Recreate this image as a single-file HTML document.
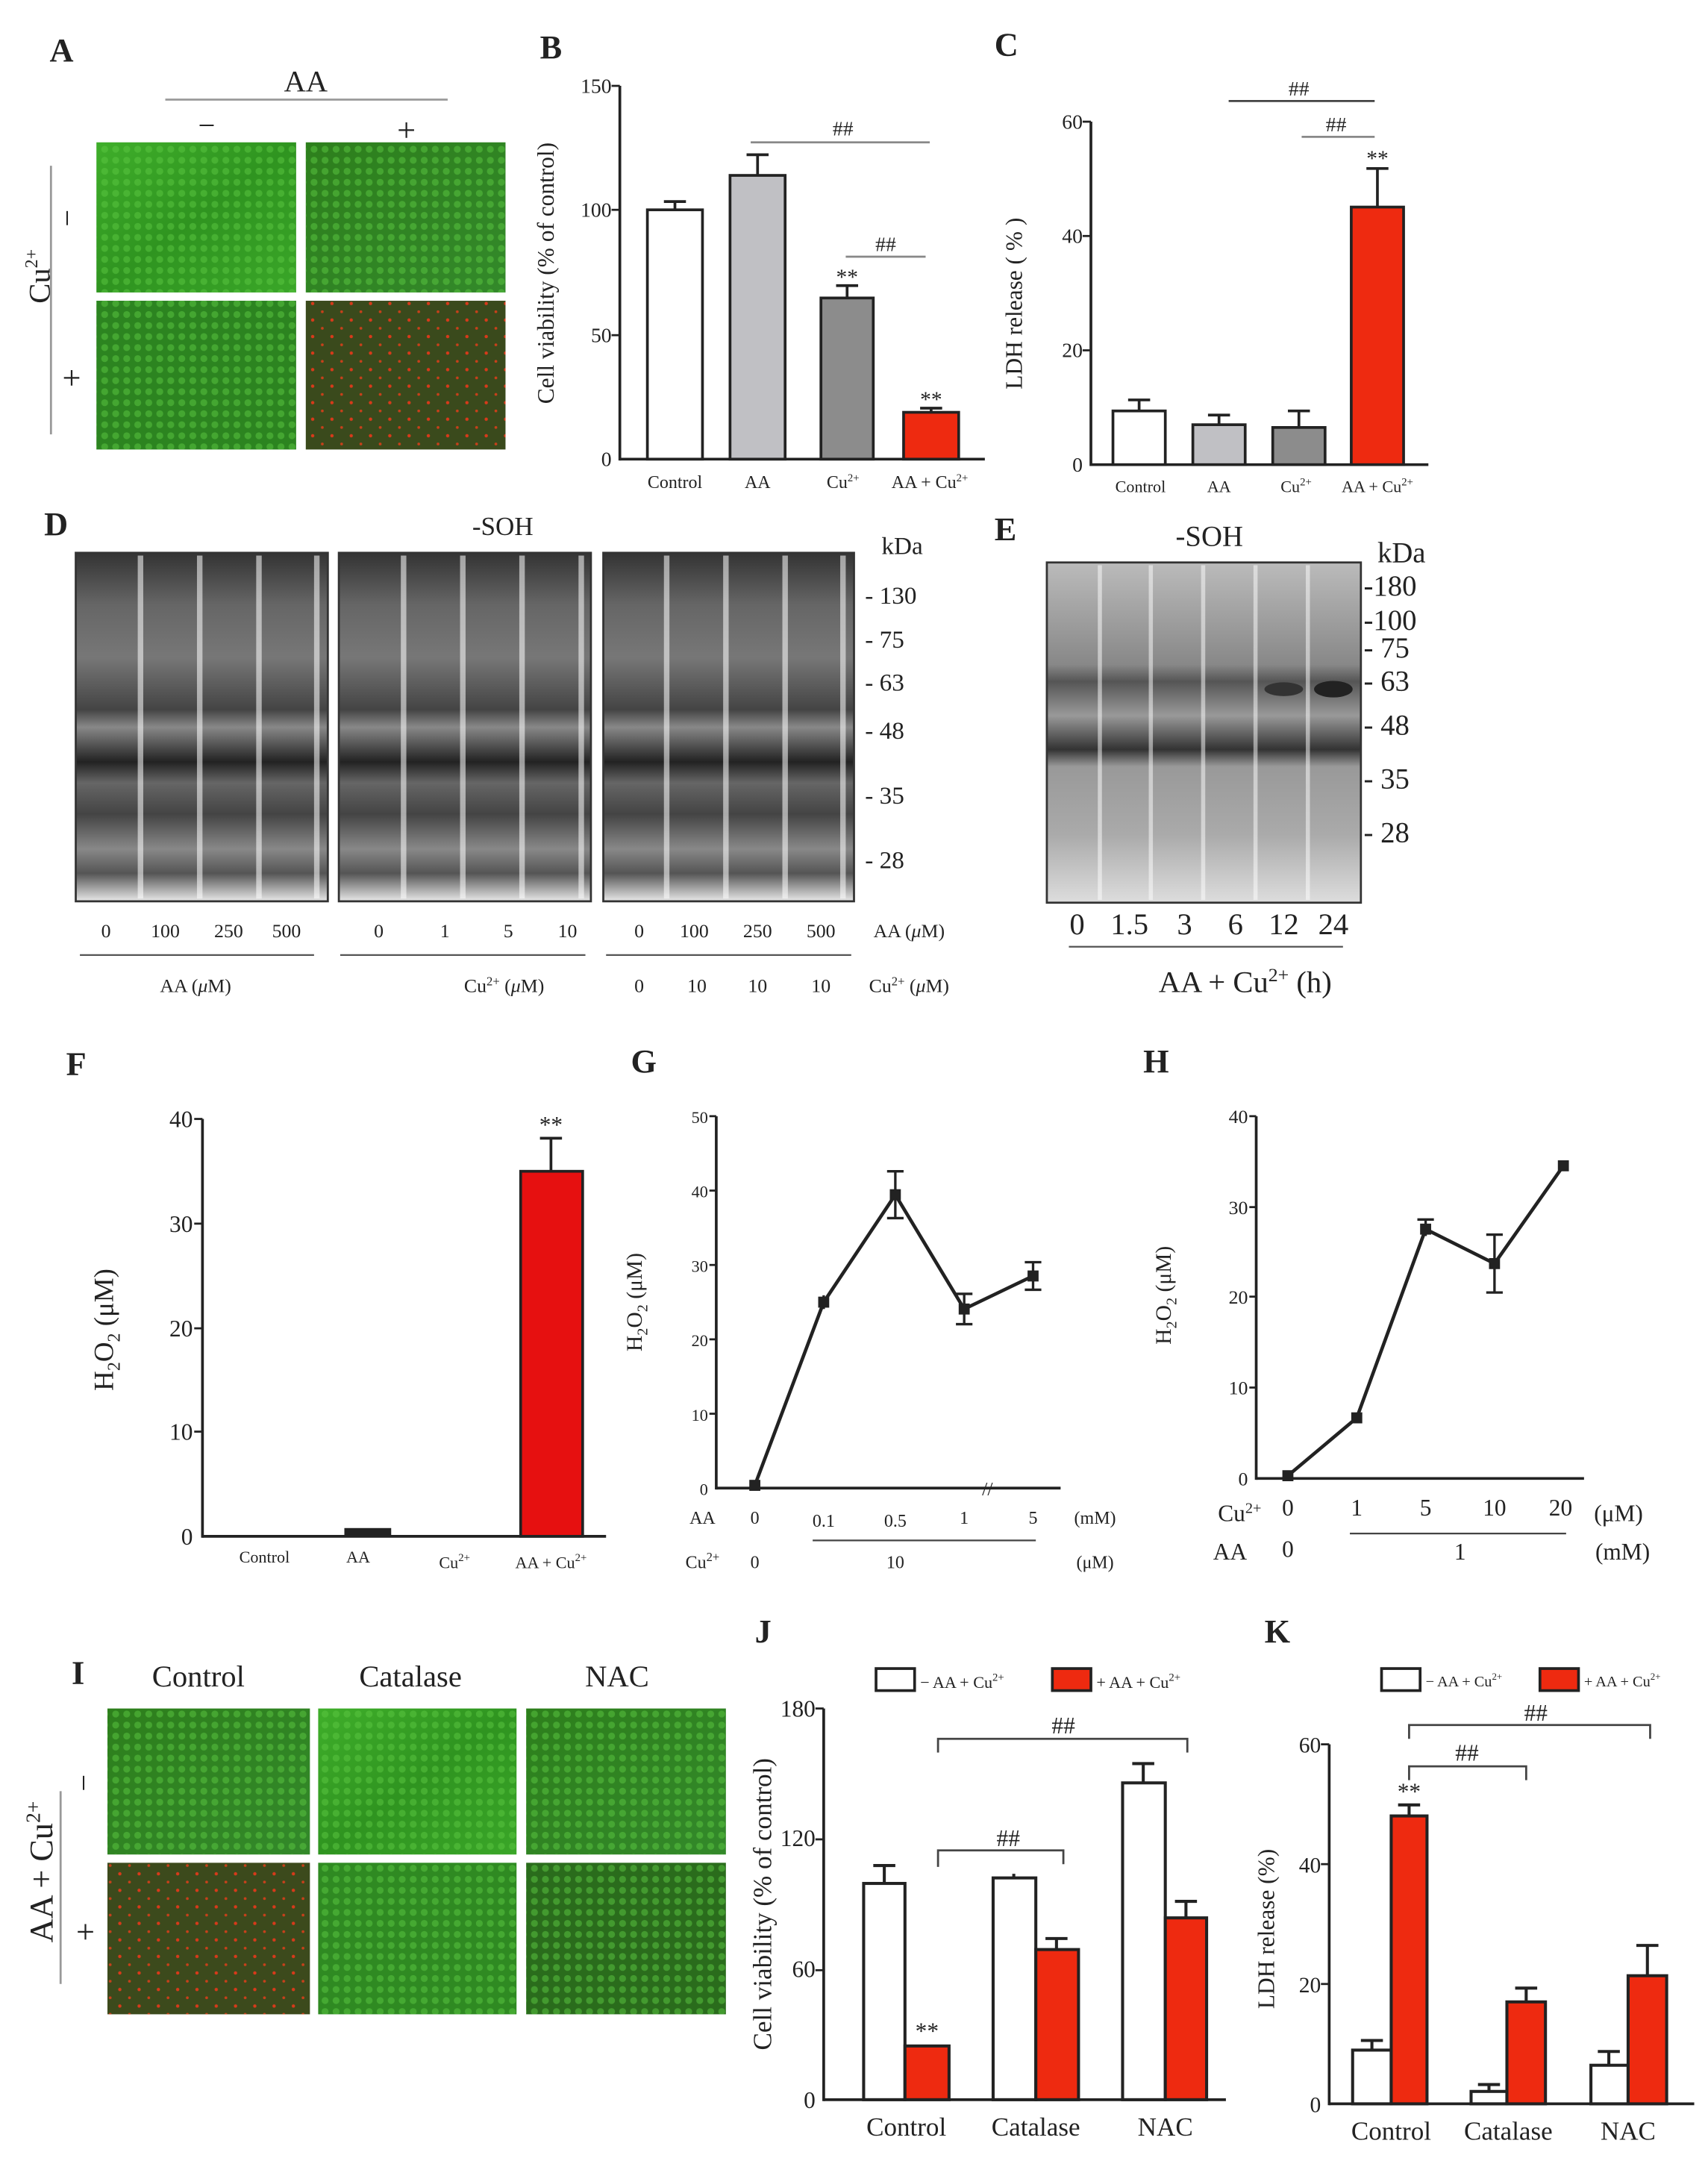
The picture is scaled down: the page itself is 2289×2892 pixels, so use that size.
<!DOCTYPE html>
<html><head><meta charset="utf-8"><style>
html,body{margin:0;padding:0;background:#fff}
svg{display:block}
text{font-family:"Liberation Serif",serif;fill:#222}
</style></head><body>
<svg width="2289" height="2892" viewBox="0 0 1240 1566" xmlns="http://www.w3.org/2000/svg">
<defs>
<linearGradient id="grn" x1="0" y1="0" x2="1" y2="1"><stop offset="0" stop-color="#3fae2a"/><stop offset="0.5" stop-color="#2f9420"/><stop offset="1" stop-color="#3aa628"/></linearGradient>
<linearGradient id="grn2" x1="0" y1="0" x2="1" y2="1"><stop offset="0" stop-color="#2d7f1c"/><stop offset="1" stop-color="#33892a"/></linearGradient>
<pattern id="cells" width="8" height="8" patternUnits="userSpaceOnUse"><circle cx="4" cy="4" r="2.5" fill="#5cc842" opacity="0.5"/></pattern>
<pattern id="reddots" width="14" height="12" patternUnits="userSpaceOnUse"><circle cx="3" cy="4" r="1.2" fill="#d83a1a"/><circle cx="10" cy="10" r="1" fill="#c8401a"/></pattern>
<linearGradient id="blot" x1="0" y1="0" x2="0" y2="1">
<stop offset="0" stop-color="#333"/><stop offset="0.15" stop-color="#666"/><stop offset="0.3" stop-color="#777"/><stop offset="0.45" stop-color="#444"/><stop offset="0.5" stop-color="#888"/><stop offset="0.6" stop-color="#222"/><stop offset="0.66" stop-color="#666"/><stop offset="0.75" stop-color="#444"/><stop offset="0.85" stop-color="#888"/><stop offset="0.92" stop-color="#555"/><stop offset="1" stop-color="#e8e8e8"/></linearGradient>
<linearGradient id="blotE" x1="0" y1="0" x2="0" y2="1">
<stop offset="0" stop-color="#bbb"/><stop offset="0.3" stop-color="#888"/><stop offset="0.35" stop-color="#555"/><stop offset="0.45" stop-color="#999"/><stop offset="0.55" stop-color="#333"/><stop offset="0.6" stop-color="#999"/><stop offset="0.8" stop-color="#aaa"/><stop offset="1" stop-color="#ddd"/></linearGradient>
</defs>

<!-- Panel A -->
<text x="36" y="44" font-size="24" font-weight="bold">A</text>
<text x="222" y="66" font-size="22" text-anchor="middle">AA</text>
<line x1="120" y1="72" x2="325" y2="72" stroke="#999" stroke-width="1.5"/>
<text x="150" y="98" font-size="22" text-anchor="middle">−</text>
<text x="295" y="102" font-size="24" text-anchor="middle">+</text>
<rect x="70" y="103" width="145" height="109" fill="url(#grn)"/><rect x="70" y="103" width="145" height="109" fill="url(#cells)"/>
<rect x="222" y="103" width="145" height="109" fill="url(#grn2)"/><rect x="222" y="103" width="145" height="109" fill="url(#cells)"/>
<rect x="70" y="218" width="145" height="108" fill="#2c8420"/><rect x="70" y="218" width="145" height="108" fill="url(#cells)"/>
<rect x="222" y="218" width="145" height="108" fill="#3a4a1c"/><rect x="222" y="218" width="145" height="108" fill="url(#reddots)"/>
<line x1="37" y1="120" x2="37" y2="315" stroke="#999" stroke-width="1.5"/>
<text transform="translate(36,220) rotate(-90)" font-size="22">Cu<tspan font-size="13" dy="-9">2+</tspan></text>
<text x="52" y="162" font-size="22" text-anchor="middle" transform="rotate(-90 52 158)">−</text>
<text x="52" y="282" font-size="24" text-anchor="middle">+</text>

<!-- Panel B -->
<text x="392" y="42" font-size="24" font-weight="bold">B</text>
<g font-size="15" text-anchor="end"><text x="444" y="67">150</text><text x="444" y="157">100</text><text x="444" y="248">50</text><text x="444" y="338">0</text></g>
<line x1="450" y1="62" x2="450" y2="334" stroke="#222" stroke-width="2"/>
<line x1="450" y1="333" x2="715" y2="333" stroke="#222" stroke-width="2"/>
<g stroke="#222" stroke-width="1.5"><line x1="444" y1="62" x2="450" y2="62"/><line x1="444" y1="152" x2="450" y2="152"/><line x1="444" y1="243" x2="450" y2="243"/></g>
<text transform="translate(402,198) rotate(-90)" font-size="17" text-anchor="middle">Cell viability (% of control)</text>
<g stroke="#222" stroke-width="2">
<rect x="470" y="152" width="40" height="181" fill="#fff"/><line x1="490" y1="152" x2="490" y2="146"/><line x1="482" y1="146" x2="498" y2="146"/>
<rect x="530" y="127" width="40" height="206" fill="#c0c0c4"/><line x1="550" y1="127" x2="550" y2="112"/><line x1="542" y1="112" x2="558" y2="112"/>
<rect x="596" y="216" width="38" height="117" fill="#8c8c8c"/><line x1="615" y1="216" x2="615" y2="207"/><line x1="607" y1="207" x2="623" y2="207"/>
<rect x="656" y="299" width="40" height="34" fill="#ee2a10"/><line x1="676" y1="299" x2="676" y2="296"/><line x1="668" y1="296" x2="684" y2="296"/>
</g>
<line x1="545" y1="103" x2="675" y2="103" stroke="#888" stroke-width="1.5"/><text x="612" y="98" font-size="15" text-anchor="middle">##</text>
<line x1="614" y1="186" x2="672" y2="186" stroke="#888" stroke-width="1.5"/><text x="643" y="182" font-size="15" text-anchor="middle">##</text>
<text x="615" y="206" font-size="16" text-anchor="middle">**</text><text x="676" y="295" font-size="16" text-anchor="middle">**</text>
<g font-size="13" text-anchor="middle"><text x="490" y="354">Control</text><text x="550" y="354">AA</text><text x="612" y="354">Cu<tspan font-size="8" dy="-5">2+</tspan></text><text x="675" y="354">AA + Cu<tspan font-size="8" dy="-5">2+</tspan></text></g>

<!-- Panel C -->
<text x="722" y="40" font-size="24" font-weight="bold">C</text>
<g font-size="15" text-anchor="end"><text x="786" y="93">60</text><text x="786" y="176">40</text><text x="786" y="259">20</text><text x="786" y="342">0</text></g>
<line x1="792" y1="88" x2="792" y2="338" stroke="#222" stroke-width="2"/>
<line x1="792" y1="337" x2="1037" y2="337" stroke="#222" stroke-width="2"/>
<g stroke="#222" stroke-width="1.5"><line x1="786" y1="88" x2="792" y2="88"/><line x1="786" y1="171" x2="792" y2="171"/><line x1="786" y1="254" x2="792" y2="254"/></g>
<text transform="translate(742,220) rotate(-90)" font-size="17" text-anchor="middle">LDH release ( % )</text>
<g stroke="#222" stroke-width="2">
<rect x="808" y="298" width="38" height="39" fill="#fff"/><line x1="827" y1="298" x2="827" y2="290"/><line x1="819" y1="290" x2="835" y2="290"/>
<rect x="866" y="308" width="38" height="29" fill="#c0c0c4"/><line x1="885" y1="308" x2="885" y2="301"/><line x1="877" y1="301" x2="893" y2="301"/>
<rect x="924" y="310" width="38" height="27" fill="#8c8c8c"/><line x1="943" y1="310" x2="943" y2="298"/><line x1="935" y1="298" x2="951" y2="298"/>
<rect x="981" y="150" width="38" height="187" fill="#ee2a10"/><line x1="1000" y1="150" x2="1000" y2="122"/><line x1="992" y1="122" x2="1008" y2="122"/>
</g>
<line x1="892" y1="73" x2="998" y2="73" stroke="#444" stroke-width="1.5"/><text x="943" y="69" font-size="15" text-anchor="middle">##</text>
<line x1="945" y1="99" x2="998" y2="99" stroke="#888" stroke-width="1.5"/><text x="970" y="95" font-size="15" text-anchor="middle">##</text>
<text x="1000" y="120" font-size="16" text-anchor="middle">**</text>
<g font-size="12" text-anchor="middle"><text x="828" y="357">Control</text><text x="885" y="357">AA</text><text x="941" y="357">Cu<tspan font-size="8" dy="-5">2+</tspan></text><text x="1000" y="357">AA + Cu<tspan font-size="8" dy="-5">2+</tspan></text></g>

<!-- Panel D -->
<text x="32" y="388" font-size="24" font-weight="bold">D</text>
<text x="365" y="388" font-size="19" text-anchor="middle">-SOH</text>
<g stroke="#333" stroke-width="1.5">
<rect x="55" y="401" width="183" height="253" fill="url(#blot)"/>
<rect x="246" y="401" width="183" height="253" fill="url(#blot)"/>
<rect x="438" y="401" width="182" height="253" fill="url(#blot)"/>
</g>
<g fill="#fff" opacity="0.55">
<rect x="100" y="403" width="4" height="249"/><rect x="143" y="403" width="4" height="249"/><rect x="186" y="403" width="4" height="249"/><rect x="228" y="403" width="4" height="249"/>
<rect x="291" y="403" width="4" height="249"/><rect x="334" y="403" width="4" height="249"/><rect x="377" y="403" width="4" height="249"/><rect x="420" y="403" width="4" height="249"/>
<rect x="482" y="403" width="4" height="249"/><rect x="525" y="403" width="4" height="249"/><rect x="568" y="403" width="4" height="249"/><rect x="610" y="403" width="4" height="249"/>
</g>
<text x="640" y="402" font-size="18">kDa</text>
<g font-size="18"><text x="628" y="438">- 130</text><text x="628" y="470">- 75</text><text x="628" y="501">- 63</text><text x="628" y="536">- 48</text><text x="628" y="583">- 35</text><text x="628" y="630">- 28</text></g>
<g font-size="14" text-anchor="middle">
<text x="77" y="680">0</text><text x="120" y="680">100</text><text x="166" y="680">250</text><text x="208" y="680">500</text>
<text x="275" y="680">0</text><text x="323" y="680">1</text><text x="369" y="680">5</text><text x="412" y="680">10</text>
<text x="464" y="680">0</text><text x="504" y="680">100</text><text x="550" y="680">250</text><text x="596" y="680">500</text>
<text x="660" y="680">AA  (<tspan font-style="italic">μ</tspan>M)</text>
<text x="464" y="720">0</text><text x="506" y="720">10</text><text x="550" y="720">10</text><text x="596" y="720">10</text>
<text x="660" y="720">Cu<tspan font-size="9" dy="-5">2+</tspan><tspan dy="5"> (</tspan><tspan font-style="italic">μ</tspan>M)</text>
<text x="142" y="720">AA (<tspan font-style="italic">μ</tspan>M)</text>
<text x="366" y="720">Cu<tspan font-size="9" dy="-5">2+</tspan><tspan dy="5"> (</tspan><tspan font-style="italic">μ</tspan>M)</text>
</g>
<g stroke="#555" stroke-width="1.2"><line x1="58" y1="693" x2="228" y2="693"/><line x1="247" y1="693" x2="425" y2="693"/><line x1="440" y1="693" x2="618" y2="693"/></g>

<!-- Panel E -->
<text x="722" y="392" font-size="24" font-weight="bold">E</text>
<text x="878" y="396" font-size="21" text-anchor="middle">-SOH</text>
<rect x="760" y="408" width="228" height="247" fill="url(#blotE)" stroke="#333" stroke-width="1.5"/>
<g fill="#fff" opacity="0.5"><rect x="797" y="410" width="3" height="243"/><rect x="834" y="410" width="3" height="243"/><rect x="872" y="410" width="3" height="243"/><rect x="910" y="410" width="3" height="243"/><rect x="948" y="410" width="3" height="243"/></g>
<ellipse cx="968" cy="500" rx="14" ry="6" fill="#222"/><ellipse cx="932" cy="500" rx="14" ry="5" fill="#333"/>
<text x="1000" y="408" font-size="21">kDa</text>
<g font-size="21"><text x="990" y="432">-180</text><text x="990" y="457">-100</text><text x="990" y="477">- 75</text><text x="990" y="501">- 63</text><text x="990" y="533">- 48</text><text x="990" y="572">- 35</text><text x="990" y="611">- 28</text></g>
<g font-size="22" text-anchor="middle"><text x="782" y="678">0</text><text x="820" y="678">1.5</text><text x="860" y="678">3</text><text x="897" y="678">6</text><text x="932" y="678">12</text><text x="968" y="678">24</text></g>
<line x1="776" y1="687" x2="975" y2="687" stroke="#555" stroke-width="1.2"/>
<text x="904" y="720" font-size="22" text-anchor="middle">AA + Cu<tspan font-size="14" dy="-8">2+</tspan><tspan dy="8"> (h)</tspan></text>

<!-- Panel F -->
<text x="48" y="780" font-size="24" font-weight="bold">F</text>
<g font-size="17" text-anchor="end"><text x="140" y="818">40</text><text x="140" y="894">30</text><text x="140" y="970">20</text><text x="140" y="1045">10</text><text x="140" y="1121">0</text></g>
<line x1="147" y1="812" x2="147" y2="1116" stroke="#222" stroke-width="2"/>
<line x1="147" y1="1115" x2="440" y2="1115" stroke="#222" stroke-width="2"/>
<g stroke="#222" stroke-width="1.5"><line x1="141" y1="812" x2="147" y2="812"/><line x1="141" y1="888" x2="147" y2="888"/><line x1="141" y1="964" x2="147" y2="964"/><line x1="141" y1="1039" x2="147" y2="1039"/></g>
<text transform="translate(82,965) rotate(-90)" font-size="20" text-anchor="middle">H<tspan font-size="13" dy="5">2</tspan><tspan dy="-5">O</tspan><tspan font-size="13" dy="5">2</tspan><tspan dy="-5"> (μM)</tspan></text>
<rect x="250" y="1109" width="34" height="6" fill="#222"/>
<rect x="378" y="850" width="45" height="265" fill="#e61010" stroke="#222" stroke-width="2"/>
<g stroke="#222" stroke-width="2"><line x1="400" y1="850" x2="400" y2="826"/><line x1="392" y1="826" x2="408" y2="826"/></g>
<text x="400" y="822" font-size="17" text-anchor="middle">**</text>
<g font-size="12" text-anchor="middle"><text x="192" y="1134">Control</text><text x="260" y="1134">AA</text><text x="330" y="1138">Cu<tspan font-size="8" dy="-5">2+</tspan></text><text x="400" y="1138">AA + Cu<tspan font-size="8" dy="-5">2+</tspan></text></g>

<!-- Panel G -->
<text x="458" y="778" font-size="24" font-weight="bold">G</text>
<g font-size="12" text-anchor="end"><text x="514" y="815">50</text><text x="514" y="869">40</text><text x="514" y="923">30</text><text x="514" y="977">20</text><text x="514" y="1031">10</text><text x="514" y="1085">0</text></g>
<line x1="520" y1="810" x2="520" y2="1081" stroke="#222" stroke-width="2"/>
<line x1="520" y1="1080" x2="770" y2="1080" stroke="#222" stroke-width="2"/>
<g stroke="#222" stroke-width="1.5"><line x1="515" y1="810" x2="520" y2="810"/><line x1="515" y1="864" x2="520" y2="864"/><line x1="515" y1="918" x2="520" y2="918"/><line x1="515" y1="972" x2="520" y2="972"/><line x1="515" y1="1026" x2="520" y2="1026"/></g>
<text x="713" y="1085" font-size="14">//</text>
<text transform="translate(466,945) rotate(-90)" font-size="16" text-anchor="middle">H<tspan font-size="11" dy="4">2</tspan><tspan dy="-4">O</tspan><tspan font-size="11" dy="4">2</tspan><tspan dy="-4"> (μM)</tspan></text>
<polyline points="548,1078 598,945 650,867 700,950 750,926" fill="none" stroke="#222" stroke-width="2.5"/>
<g stroke="#222" stroke-width="1.8"><line x1="598" y1="940" x2="598" y2="950"/><line x1="650" y1="850" x2="650" y2="884"/><line x1="644" y1="850" x2="656" y2="850"/><line x1="644" y1="884" x2="656" y2="884"/><line x1="700" y1="939" x2="700" y2="961"/><line x1="694" y1="939" x2="706" y2="939"/><line x1="694" y1="961" x2="706" y2="961"/><line x1="750" y1="916" x2="750" y2="936"/><line x1="744" y1="916" x2="756" y2="916"/><line x1="744" y1="936" x2="756" y2="936"/></g>
<g fill="#222"><rect x="544" y="1074" width="8" height="8"/><rect x="594" y="941" width="8" height="8"/><rect x="646" y="863" width="8" height="8"/><rect x="696" y="946" width="8" height="8"/><rect x="746" y="922" width="8" height="8"/></g>
<g font-size="13" text-anchor="middle"><text x="510" y="1106">AA</text><text x="548" y="1106">0</text><text x="598" y="1108">0.1</text><text x="650" y="1108">0.5</text><text x="700" y="1106">1</text><text x="750" y="1106">5</text><text x="795" y="1106">(mM)</text>
<text x="510" y="1138">Cu<tspan font-size="9" dy="-5">2+</tspan></text><text x="548" y="1138">0</text><text x="650" y="1138">10</text><text x="795" y="1138">(μM)</text></g>
<line x1="590" y1="1118" x2="752" y2="1118" stroke="#444" stroke-width="1.2"/>

<!-- Panel H -->
<text x="830" y="778" font-size="24" font-weight="bold">H</text>
<g font-size="14" text-anchor="end"><text x="906" y="815">40</text><text x="906" y="881">30</text><text x="906" y="946">20</text><text x="906" y="1012">10</text><text x="906" y="1078">0</text></g>
<line x1="912" y1="810" x2="912" y2="1074" stroke="#222" stroke-width="2"/>
<line x1="912" y1="1073" x2="1150" y2="1073" stroke="#222" stroke-width="2"/>
<g stroke="#222" stroke-width="1.5"><line x1="907" y1="810" x2="912" y2="810"/><line x1="907" y1="876" x2="912" y2="876"/><line x1="907" y1="941" x2="912" y2="941"/><line x1="907" y1="1007" x2="912" y2="1007"/></g>
<text transform="translate(850,940) rotate(-90)" font-size="16" text-anchor="middle">H<tspan font-size="11" dy="4">2</tspan><tspan dy="-4">O</tspan><tspan font-size="11" dy="4">2</tspan><tspan dy="-4"> (μM)</tspan></text>
<polyline points="935,1071 985,1029 1035,892 1085,917 1135,846" fill="none" stroke="#222" stroke-width="2.5"/>
<g stroke="#222" stroke-width="1.8"><line x1="1035" y1="885" x2="1035" y2="897"/><line x1="1029" y1="885" x2="1041" y2="885"/><line x1="1085" y1="896" x2="1085" y2="938"/><line x1="1079" y1="896" x2="1091" y2="896"/><line x1="1079" y1="938" x2="1091" y2="938"/></g>
<g fill="#222"><rect x="931" y="1067" width="8" height="8"/><rect x="981" y="1025" width="8" height="8"/><rect x="1031" y="888" width="8" height="8"/><rect x="1081" y="913" width="8" height="8"/><rect x="1131" y="842" width="8" height="8"/></g>
<g font-size="17" text-anchor="middle"><text x="900" y="1104">Cu<tspan font-size="11" dy="-6">2+</tspan></text><text x="935" y="1100">0</text><text x="985" y="1100">1</text><text x="1035" y="1100">5</text><text x="1085" y="1100">10</text><text x="1133" y="1100">20</text><text x="1175" y="1104">(μM)</text>
<text x="893" y="1132">AA</text><text x="935" y="1130">0</text><text x="1060" y="1132">1</text><text x="1178" y="1132">(mM)</text></g>
<line x1="980" y1="1113" x2="1137" y2="1113" stroke="#444" stroke-width="1.2"/>

<!-- Panel I -->
<text x="52" y="1222" font-size="24" font-weight="bold">I</text>
<g font-size="22" text-anchor="middle"><text x="144" y="1224">Control</text><text x="298" y="1224">Catalase</text><text x="448" y="1224">NAC</text></g>
<rect x="78" y="1240" width="147" height="106" fill="url(#grn2)"/><rect x="78" y="1240" width="147" height="106" fill="url(#cells)"/>
<rect x="231" y="1240" width="144" height="106" fill="url(#grn)"/><rect x="231" y="1240" width="144" height="106" fill="url(#cells)"/>
<rect x="382" y="1240" width="145" height="106" fill="url(#grn2)"/><rect x="382" y="1240" width="145" height="106" fill="url(#cells)"/>
<rect x="78" y="1352" width="147" height="110" fill="#3c4a1c"/><rect x="78" y="1352" width="147" height="110" fill="url(#reddots)"/>
<rect x="231" y="1352" width="144" height="110" fill="#2f8a22"/><rect x="231" y="1352" width="144" height="110" fill="url(#cells)"/>
<rect x="382" y="1352" width="145" height="110" fill="#2a6c1c"/><rect x="382" y="1352" width="145" height="110" fill="url(#cells)"/>
<line x1="44" y1="1300" x2="44" y2="1440" stroke="#999" stroke-width="1.5"/>
<text transform="translate(38,1410) rotate(-90)" font-size="24">AA + Cu<tspan font-size="15" dy="-9">2+</tspan></text>
<text x="62" y="1300" font-size="22" text-anchor="middle" transform="rotate(-90 62 1294)">−</text>
<text x="62" y="1410" font-size="24" text-anchor="middle">+</text>

<!-- Panel J -->
<text x="548" y="1192" font-size="24" font-weight="bold">J</text>
<rect x="636" y="1211" width="28" height="16" fill="#fff" stroke="#222" stroke-width="2"/><text x="668" y="1225" font-size="12">− AA + Cu<tspan font-size="8" dy="-5">2+</tspan></text>
<rect x="764" y="1211" width="28" height="16" fill="#ee2a10" stroke="#222" stroke-width="2"/><text x="796" y="1225" font-size="12">+ AA + Cu<tspan font-size="8" dy="-5">2+</tspan></text>
<g font-size="17" text-anchor="end"><text x="592" y="1246">180</text><text x="592" y="1340">120</text><text x="592" y="1435">60</text><text x="592" y="1530">0</text></g>
<line x1="598" y1="1240" x2="598" y2="1525" stroke="#222" stroke-width="2"/>
<line x1="598" y1="1524" x2="890" y2="1524" stroke="#222" stroke-width="2"/>
<g stroke="#222" stroke-width="1.5"><line x1="592" y1="1240" x2="598" y2="1240"/><line x1="592" y1="1335" x2="598" y2="1335"/><line x1="592" y1="1430" x2="598" y2="1430"/></g>
<text transform="translate(560,1382) rotate(-90)" font-size="19" text-anchor="middle">Cell viability (% of control)</text>
<g stroke="#222" stroke-width="2.2">
<rect x="627" y="1367" width="30" height="157" fill="#fff"/><line x1="642" y1="1367" x2="642" y2="1354"/><line x1="634" y1="1354" x2="650" y2="1354"/>
<rect x="657" y="1485" width="32" height="39" fill="#ee2a10"/>
<rect x="721" y="1363" width="31" height="161" fill="#fff"/><line x1="736" y1="1363" x2="736" y2="1360"/>
<rect x="752" y="1415" width="31" height="109" fill="#ee2a10"/><line x1="767" y1="1415" x2="767" y2="1407"/><line x1="759" y1="1407" x2="775" y2="1407"/>
<rect x="815" y="1294" width="31" height="230" fill="#fff"/><line x1="830" y1="1294" x2="830" y2="1280"/><line x1="822" y1="1280" x2="838" y2="1280"/>
<rect x="846" y="1392" width="30" height="132" fill="#ee2a10"/><line x1="861" y1="1392" x2="861" y2="1380"/><line x1="853" y1="1380" x2="869" y2="1380"/>
</g>
<text x="673" y="1480" font-size="17" text-anchor="middle">**</text>
<polyline points="681,1272 681,1262 862,1262 862,1272" fill="none" stroke="#444" stroke-width="1.5"/><text x="772" y="1258" font-size="17" text-anchor="middle">##</text>
<polyline points="681,1355 681,1343 772,1343 772,1353" fill="none" stroke="#444" stroke-width="1.5"/><text x="732" y="1340" font-size="17" text-anchor="middle">##</text>
<g font-size="19" text-anchor="middle"><text x="658" y="1550">Control</text><text x="752" y="1550">Catalase</text><text x="846" y="1550">NAC</text></g>

<!-- Panel K -->
<text x="918" y="1192" font-size="24" font-weight="bold">K</text>
<rect x="1003" y="1211" width="28" height="16" fill="#fff" stroke="#222" stroke-width="2"/><text x="1035" y="1224" font-size="11">− AA + Cu<tspan font-size="7" dy="-5">2+</tspan></text>
<rect x="1118" y="1211" width="28" height="16" fill="#ee2a10" stroke="#222" stroke-width="2"/><text x="1150" y="1224" font-size="11">+ AA + Cu<tspan font-size="7" dy="-5">2+</tspan></text>
<g font-size="16" text-anchor="end"><text x="959" y="1272">60</text><text x="959" y="1359">40</text><text x="959" y="1446">20</text><text x="959" y="1533">0</text></g>
<line x1="965" y1="1266" x2="965" y2="1528" stroke="#222" stroke-width="2"/>
<line x1="965" y1="1527" x2="1230" y2="1527" stroke="#222" stroke-width="2"/>
<g stroke="#222" stroke-width="1.5"><line x1="959" y1="1266" x2="965" y2="1266"/><line x1="959" y1="1353" x2="965" y2="1353"/><line x1="959" y1="1440" x2="965" y2="1440"/></g>
<text transform="translate(925,1400) rotate(-90)" font-size="17" text-anchor="middle">LDH release (%)</text>
<g stroke="#222" stroke-width="2.2">
<rect x="982" y="1488" width="28" height="39" fill="#fff"/><line x1="996" y1="1488" x2="996" y2="1481"/><line x1="988" y1="1481" x2="1004" y2="1481"/>
<rect x="1010" y="1318" width="26" height="209" fill="#ee2a10"/><line x1="1023" y1="1318" x2="1023" y2="1310"/><line x1="1015" y1="1310" x2="1031" y2="1310"/>
<rect x="1068" y="1518" width="26" height="9" fill="#fff"/><line x1="1081" y1="1518" x2="1081" y2="1513"/><line x1="1073" y1="1513" x2="1089" y2="1513"/>
<rect x="1094" y="1453" width="28" height="74" fill="#ee2a10"/><line x1="1108" y1="1453" x2="1108" y2="1443"/><line x1="1100" y1="1443" x2="1116" y2="1443"/>
<rect x="1155" y="1499" width="27" height="28" fill="#fff"/><line x1="1168" y1="1499" x2="1168" y2="1489"/><line x1="1160" y1="1489" x2="1176" y2="1489"/>
<rect x="1182" y="1434" width="28" height="93" fill="#ee2a10"/><line x1="1196" y1="1434" x2="1196" y2="1412"/><line x1="1188" y1="1412" x2="1204" y2="1412"/>
</g>
<text x="1023" y="1306" font-size="17" text-anchor="middle">**</text>
<polyline points="1023,1262 1023,1252 1198,1252 1198,1262" fill="none" stroke="#444" stroke-width="1.5"/><text x="1115" y="1249" font-size="17" text-anchor="middle">##</text>
<polyline points="1023,1292 1023,1282 1108,1282 1108,1292" fill="none" stroke="#444" stroke-width="1.5"/><text x="1065" y="1278" font-size="17" text-anchor="middle">##</text>
<g font-size="19" text-anchor="middle"><text x="1010" y="1553">Control</text><text x="1095" y="1553">Catalase</text><text x="1182" y="1553">NAC</text></g>
</svg>
</body></html>
